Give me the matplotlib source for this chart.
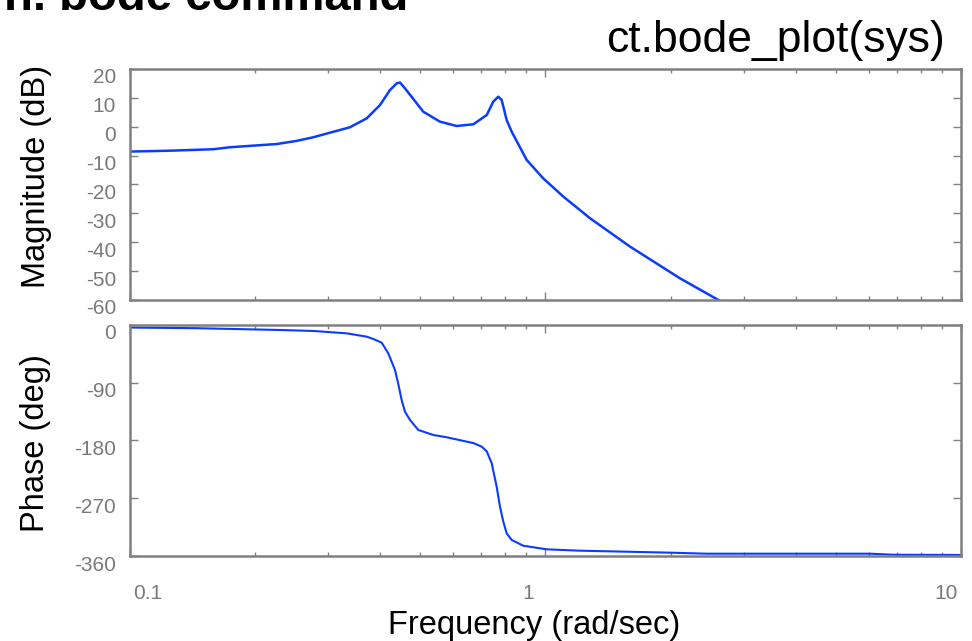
import numpy as np
import matplotlib
matplotlib.use("Agg")
import matplotlib.pyplot as plt
from matplotlib.transforms import ScaledTranslation
from matplotlib.ticker import LogLocator, NullFormatter

# frequency response samples (rad/sec, dB, deg)
mag_w = [0.1, 0.1248, 0.1586, 0.1741, 0.2254, 0.2519, 0.2762, 0.303, 0.3384,
         0.3713, 0.3997, 0.4224, 0.4384, 0.4466, 0.459, 0.508, 0.5573, 0.6113,
         0.6704, 0.7222, 0.7488, 0.7698, 0.7845, 0.8064, 0.8291, 0.901, 0.9879,
         1.104, 1.28, 1.597, 2.107, 2.606, 3.0]
mag_db = [-8.6, -8.3, -7.8, -7.1, -6.0, -4.9, -3.65, -2.06, -0.19,
          2.9, 7.5, 12.7, 15.0, 15.3, 13.3, 5.2, 1.75, 0.26,
          0.84, 4.07, 8.7, 10.4, 9.26, 2.3, -1.7, -11.5, -17.9,
          -24.2, -31.7, -41.5, -52.5, -60.0, -65.0]

phase_w = [0.1, 0.1447, 0.2295, 0.2762, 0.3322, 0.3713, 0.3851, 0.4034, 0.4183,
           0.4343, 0.442, 0.4507, 0.459, 0.472, 0.4942, 0.537, 0.5784, 0.6704,
           0.7023, 0.7222, 0.7423, 0.763, 0.7771, 0.7915, 0.8064, 0.8291, 0.8843,
           1.007, 1.21, 1.993, 2.443, 6.04, 6.87, 10.0]
phase_deg = [-4.0, -5.0, -7.8, -9.3, -13.0, -18.2, -21.8, -27.5, -44.0,
             -70.0, -91.0, -117.0, -135.0, -148.0, -163.6, -171.4, -175.0, -184.0,
             -189.6, -197.0, -215.5, -252.0, -283.0, -306.5, -324.6, -335.0, -344.0,
             -349.6, -351.7, -354.8, -356.4, -356.4, -358.0, -358.4]

mag_ticks = [20, 10, 0, -10, -20, -30, -40, -50, -60]
phase_ticks = [0, -90, -180, -270, -360]
freq_ticks = [0.1, 1, 10]
freq_labels = ["0.1", "1", "10"]

plt.rcParams['font.family'] = ['Liberation Sans', 'DejaVu Sans']
plt.rcParams['axes.unicode_minus'] = False

line_color = "#0a3cff"
gray = "#808080"

fig = plt.figure(figsize=(9.72, 6.41), dpi=100)
magAx = fig.add_axes([0.1337, 0.532, 0.855, 0.3604])
phaseAx = fig.add_axes([0.1337, 0.1326, 0.855, 0.3604])

magAx.semilogx(mag_w, mag_db, color=line_color, lw=1.8)
phaseAx.semilogx(phase_w, phase_deg, color=line_color, lw=1.5)

magAx.set_ylim(-60, 20)
magAx.set_yticks(mag_ticks)
phaseAx.set_ylim(-360, 0)
phaseAx.set_yticks(phase_ticks)

for ax in (magAx, phaseAx):
    ax.set_xlim(0.1, 10)
    ax.set_xticks(freq_ticks)
    ax.xaxis.set_minor_locator(LogLocator(base=10, subs=np.arange(2, 10)))
    ax.xaxis.set_minor_formatter(NullFormatter())
    for s in ax.spines.values():
        s.set_color(gray)
        s.set_linewidth(1.8)
    ax.tick_params(which="both", direction="in", top=True, right=True,
                   color=gray, width=1.0, labelcolor="#7a7a7a", labelsize=15)
    ax.tick_params(which="major", length=5.5)
    ax.tick_params(which="minor", length=3)
    ax.tick_params(axis="y", pad=10)
    # nudge the y labels down a little
    for lab in ax.get_yticklabels():
        lab.set_transform(lab.get_transform() + ScaledTranslation(0, -0.07, fig.dpi_scale_trans))

magAx.set_xticklabels([])
phaseAx.set_xticklabels(freq_labels)
phaseAx.tick_params(axis="x", pad=20)
shifts = [0.18, -0.175, -0.145]
for lab, dx in zip(phaseAx.get_xticklabels(), shifts):
    lab.set_transform(lab.get_transform() + ScaledTranslation(dx, 0, fig.dpi_scale_trans))

fig.text(534 / 972, 1 - 634 / 641, "Frequency (rad/sec)", fontsize=23.5,
         ha="center", va="baseline")
fig.text(45 / 972, 1 - 176 / 641, "Magnitude (dB)", fontsize=23.5, rotation=90,
         rotation_mode="anchor", ha="center", va="baseline")
fig.text(44 / 972, 1 - 443 / 641, "Phase (deg)", fontsize=23.5, rotation=90,
         rotation_mode="anchor", ha="center", va="baseline")
fig.text(945 / 972, 1 - 52 / 641, "ct.bode_plot(sys)", fontsize=32,
         ha="right", va="baseline")
fig.text(408 / 972, 1 - 10 / 641, "n. bode command", fontsize=34, fontweight="bold",
         ha="right", va="baseline")

fig.savefig("out.png", dpi=100)
